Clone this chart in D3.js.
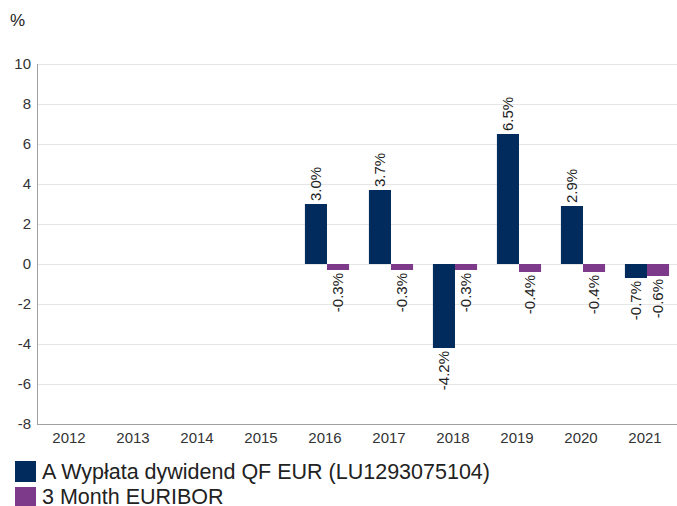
<!DOCTYPE html>
<html lang="pl">
<head>
  <meta charset="utf-8">
  <title>Wyniki roczne</title>
  <script src="https://d3js.org/d3.v7.min.js"></script>
  <style>
    html, body { margin: 0; padding: 0; background: #fff; }
    svg { display: block; font-family: Arial, "Liberation Sans", sans-serif; }
    .grid line { stroke: #e6e6e6; }
    .axis text { fill: #333; font-size: 15px; }
  </style>
</head>
<body>
  <svg id="chart" width="677" height="506"></svg>
  <script>
    // values
    const years = ['2012', '2013', '2014', '2015', '2016', '2017', '2018', '2019', '2020', '2021'];
    const fundValues = [null, null, null, null, 3.0, 3.7, -4.2, 6.5, 2.9, -0.7];
    const euriborValues = [null, null, null, null, -0.3, -0.3, -0.3, -0.4, -0.4, -0.6];
    const seriesNames = ['A Wypłata dywidend QF EUR (LU1293075104)', '3 Month EURIBOR'];
    const seriesColors = ['#002b5c', '#7d3a8b'];
    const yTicks = [-8, -6, -4, -2, 0, 2, 4, 6, 8, 10];

    const svg = d3.select('#chart');
    const plotLeft = 37, plotRight = 677, plotTop = 64, plotBottom = 424;

    const x = d3.scaleBand().domain(years).range([plotLeft, plotRight]);
    const y = d3.scaleLinear().domain([-8, 10]).range([plotBottom, plotTop]);
    const inner = d3.scaleBand().domain([0, 1]).range([0, x.bandwidth()])
      .paddingOuter(0.45).align(0.6);

    // grid
    svg.append('g').attr('class', 'grid')
      .selectAll('line').data(yTicks.filter(t => t !== -8)).enter().append('line')
        .attr('x1', plotLeft).attr('x2', plotRight)
        .attr('y1', d => y(d) + 0.5).attr('y2', d => y(d) + 0.5);

    // y axis labels
    svg.append('g').attr('class', 'axis')
      .selectAll('text').data(yTicks).enter().append('text')
        .attr('x', 31).attr('y', d => y(d)).attr('dy', '0.35em')
        .attr('text-anchor', 'end').text(d => d);

    svg.append('text').attr('x', 10).attr('y', 26)
      .attr('font-size', 17).attr('fill', '#222').text('%');

    // x axis labels
    svg.append('g').attr('class', 'axis')
      .selectAll('text').data(years).enter().append('text')
        .attr('x', d => x(d) + x.bandwidth() / 2).attr('y', 443)
        .attr('text-anchor', 'middle').text(d => d);

    // bars
    const series = [fundValues, euriborValues];
    series.forEach((vals, si) => {
      const pts = years.map((yr, i) => ({ yr, v: vals[i] })).filter(d => d.v !== null);
      const g = svg.append('g');
      g.selectAll('rect').data(pts).enter().append('rect')
        .attr('x', d => x(d.yr) + inner(si))
        .attr('width', inner.bandwidth())
        .attr('y', d => y(Math.max(0, d.v)))
        .attr('height', d => Math.abs(y(d.v) - y(0)))
        .attr('fill', seriesColors[si]);
      g.selectAll('text').data(pts).enter().append('text')
        .attr('transform', d => {
          const cx = x(d.yr) + inner(si) + inner.bandwidth() / 2;
          const cy = d.v >= 0 ? y(d.v) - 3 : y(d.v) + 3;
          return `translate(${cx},${cy}) rotate(-90)`;
        })
        .attr('text-anchor', d => d.v >= 0 ? 'start' : 'end')
        .attr('dy', '0.35em')
        .attr('font-size', 15).attr('fill', '#222')
        .text(d => d.v.toFixed(1) + '%');
    });

    // axis lines
    svg.append('line').attr('x1', plotLeft + 0.5).attr('x2', plotLeft + 0.5)
      .attr('y1', plotTop).attr('y2', plotBottom + 0.5).attr('stroke', '#a0a0a0');
    svg.append('line').attr('x1', plotLeft).attr('x2', plotRight)
      .attr('y1', plotBottom + 0.5).attr('y2', plotBottom + 0.5).attr('stroke', '#a0a0a0');

    // legend
    const legend = svg.append('g').selectAll('g').data(seriesNames).enter().append('g')
      .attr('transform', (d, i) => `translate(15,${461 + i * 26})`);
    legend.append('rect').attr('width', 21).attr('height', 21)
      .attr('fill', (d, i) => seriesColors[i]);
    legend.append('text').attr('x', 27).attr('y', (d, i) => 18 - i)
      .attr('font-size', 21.5).attr('fill', '#222').text(d => d);
  </script>
</body>
</html>
